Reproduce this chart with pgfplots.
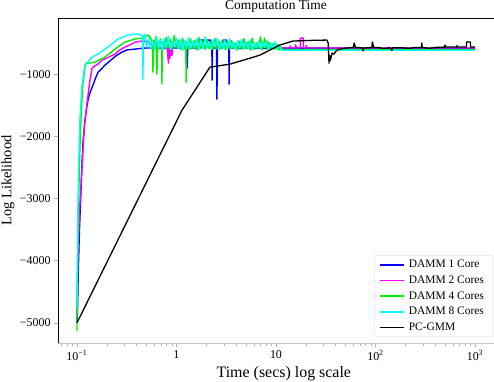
\documentclass[border=0pt]{standalone}
\usepackage{fontspec}
\setmainfont{Liberation Serif}
\usepackage{pgfplots}
\pgfplotsset{compat=1.18}

\definecolor{dblue}{RGB}{0,0,255}
\definecolor{dmag}{RGB}{255,0,255}
\definecolor{dgreen}{RGB}{0,240,0}
\definecolor{dcyan}{RGB}{0,255,255}

\begin{document}
\begin{tikzpicture}
\begin{axis}[
    scale only axis,
    width=436bp, height=325bp,
    xmode=log,
    xmin=0.0645, xmax=1552,
    ymin=-5323, ymax=-97,
    axis lines*=left,
    axis line style={-},
    x axis line style={gray!45, line width=1pt},
    y axis line style={black, line width=0.9pt},
    xtick={0.1,1,10,100,1000},
    xticklabels={10\textsuperscript{−1},1,10,10\textsuperscript{2},10\textsuperscript{3}},
    minor xtick={0.07,0.08,0.09,0.2,0.3,0.4,0.5,0.6,0.7,0.8,0.9,2,3,4,5,6,7,8,9,20,30,40,50,60,70,80,90,200,300,400,500,600,700,800,900},
    ytick={-5000,-4000,-3000,-2000,-1000},
    yticklabels={−5000,−4000,−3000,−2000,−1000},
    tick align=outside,
    major tick length=4bp, minor tick length=2.5bp,
    tick style={gray!60, line width=0.8pt},
    ticklabel style={font=\fontsize{12}{14}\selectfont},
    every axis title shift=0pt,
    title={Computation Time},
    title style={at={(axis description cs:0.5,1)}, anchor=base, yshift=8bp, font=\fontsize{13.5}{15}\selectfont},
    xlabel={Time (secs) log scale},
    xlabel style={at={(axis description cs:0.518,0)}, anchor=base, yshift=-34bp, font=\fontsize{16}{18}\selectfont},
    ylabel={Log Likelihood},
    ylabel style={at={(axis description cs:-0.115,0.5)}, anchor=center, font=\fontsize{14.5}{16}\selectfont},
    legend style={at={(0.998,0.018)}, anchor=south east, draw=gray!35, rounded corners=2pt,
        font=\fontsize{11.5}{13}\selectfont, row sep=2.6pt, inner xsep=5pt, inner ysep=3pt,
        nodes={inner xsep=4pt}},
    legend cell align=left,
    legend image code/.code={\draw[#1] (0bp,0bp) -- (24bp,0bp);},
    every axis plot/.append style={line width=1.4pt, line join=round},
]

\addlegendimage{color=dblue, line width=1.6pt}
\addlegendentry{DAMM 1 Core}
\addlegendimage{color=dmag, line width=1.6pt}
\addlegendentry{DAMM 2 Cores}
\addlegendimage{color=dgreen, line width=1.6pt}
\addlegendentry{DAMM 4 Cores}
\addlegendimage{color=dcyan, line width=1.6pt}
\addlegendentry{DAMM 8 Cores}
\addlegendimage{color=black, line width=1.6pt}
\addlegendentry{PC-GMM}

% DAMM 1 Core
\addplot[color=dblue, forget plot] coordinates {
(0.1,-5000) (0.1015,-4750) (0.103,-4200) (0.106,-3500) (0.109,-3000) (0.112,-2500)
(0.115,-2100) (0.12,-1750) (0.125,-1550) (0.129,-1420) (0.135,-1300) (0.145,-1177)
(0.155,-1050) (0.163,-968) (0.178,-910) (0.191,-855) (0.21,-800) (0.225,-758)
(0.25,-700) (0.283,-645) (0.32,-610) (0.383,-597) (0.45,-585) (0.483,-580)
(1.26,-580) (1.28,-900) (1.3,-580) (1.72,-580) (1.74,-452) (2.2,-452) (2.22,-580)
(2.27,-580) (2.28,-1097) (2.3,-580) (2.53,-580) (2.55,-1403) (2.58,-580)
(2.9,-580) (2.93,-452) (3.2,-452) (3.23,-580) (3.36,-580) (3.38,-1161) (3.41,-580)
(1000,-585)
};

% DAMM 2 Cores
\addplot[color=dmag, forget plot] coordinates {
(0.1,-4900) (0.102,-4000) (0.106,-3200) (0.112,-2548) (0.118,-1900) (0.126,-1468)
(0.135,-1100) (0.142,-903) (0.15,-870) (0.165,-830) (0.178,-774) (0.2,-740)
(0.241,-677) (0.27,-610) (0.303,-565) (0.35,-520) (0.383,-484) (0.45,-468)
(0.5,-470) (0.55,-520) (0.6,-470) (0.65,-560) (0.7,-480) (0.75,-540) (0.8,-500)
(0.83,-823) (0.84,-560) (0.86,-742) (0.87,-580) (0.9,-700) (0.92,-560) (1.0,-520)
(1.1,-580) (1.2,-500) (1.3,-580) (1.5,-520) (1.8,-580) (2.1,-530) (2.5,-580)
(3.0,-540) (11.7,-580) (13.8,-580) (13.9,-545) (14.2,-580) (15.6,-580) (15.7,-530)
(16.1,-580) (17.5,-580) (17.6,-420) (18.8,-420) (18.9,-580) (20.0,-580) (20.1,-540)
(20.6,-580) (1000,-580)
};

% DAMM 4 Cores
\addplot[color=dgreen, forget plot] coordinates {
(0.1,-5130) (0.1005,-4500) (0.102,-3800) (0.104,-3000) (0.107,-2200) (0.11,-1700)
(0.114,-1200) (0.12,-900) (0.123,-823) (0.13,-825) (0.152,-806) (0.191,-726)
(0.241,-597) (0.303,-484) (0.383,-435) (0.45,-420) (0.517,-370)
(0.55,-420) (0.575,-500) (0.58,-968) (0.59,-450) (0.60,-560) (0.62,-400) (0.636,-1000)
(0.65,-470) (0.66,-590) (0.69,-430) (0.71,-560) (0.715,-1161) (0.72,-480) (0.75,-600)
(0.79,-410) (0.83,-580) (0.87,-440) (0.91,-600) (0.95,-380) (1.0,-570) (1.05,-450)
(1.1,-600) (1.15,-420) (1.2,-590) (1.24,-470) (1.25,-1129) (1.26,-500) (1.32,-600)
(1.38,-430) (1.45,-590) (1.52,-460) (1.6,-610) (1.68,-410) (1.76,-580) (1.85,-470)
(1.94,-600) (2.03,-440) (2.13,-590) (2.23,-480) (2.34,-610) (2.45,-430) (2.57,-600)
(2.7,-470) (2.83,-590) (2.97,-450) (3.1,-610) (3.26,-490) (3.42,-600) (3.58,-460)
(3.76,-590) (3.94,-500) (4.13,-610) (4.33,-470) (4.54,-600) (4.76,-430) (5.0,-590)
(5.25,-480) (5.5,-610) (5.77,-420) (6.05,-600) (6.35,-500) (6.66,-590) (6.98,-400)
(7.32,-610) (7.68,-420) (8.05,-600) (8.45,-480) (8.86,-610) (9.3,-510) (9.75,-600)
(10.2,-520) (10.7,-610) (11.2,-560) (11.7,-605) (1000,-605)
};

% DAMM 8 Cores
\addplot[color=dcyan, forget plot] coordinates {
(0.1,-4758) (0.1023,-3145) (0.104,-2500) (0.107,-1742) (0.112,-1200) (0.12,-855)
(0.142,-726) (0.163,-677) (0.191,-597) (0.225,-516) (0.258,-435) (0.326,-371)
(0.41,-355) (0.455,-380) (0.46,-1081) (0.465,-400) (0.48,-360)
(0.50,-560) (0.525,-420) (0.55,-590) (0.575,-470) (0.60,-600) (0.63,-400) (0.66,-580)
(0.69,-450) (0.72,-610) (0.75,-430) (0.79,-570) (0.83,-390) (0.87,-600) (0.91,-480)
(0.95,-560) (1.0,-420) (1.05,-590) (1.1,-440) (1.15,-620) (1.2,-460) (1.26,-580)
(1.32,-410) (1.38,-600) (1.45,-470) (1.52,-570) (1.6,-430) (1.68,-610) (1.76,-450)
(1.85,-590) (1.94,-400) (2.03,-580) (2.13,-480) (2.23,-600) (2.34,-440) (2.45,-560)
(2.57,-420) (2.7,-610) (2.83,-470) (2.97,-590) (3.1,-450) (3.26,-600) (3.42,-430)
(3.58,-580) (3.76,-490) (3.94,-610) (4.13,-460) (4.33,-570) (4.54,-440) (4.76,-600)
(5.0,-480) (5.25,-590) (5.5,-450) (5.77,-610) (6.05,-500) (6.35,-580) (6.66,-470)
(6.98,-600) (7.32,-490) (7.68,-570) (8.05,-460) (8.45,-610) (8.86,-500) (9.3,-590)
(9.75,-480) (10.2,-600) (10.7,-520) (11.2,-610) (11.7,-615) (1000,-615)
};

% PC-GMM
\addplot[color=black, line width=1.3pt, forget plot] coordinates {
(0.1,-5000) (1.135,-1581) (2.17,-887) (3.45,-839) (5.1,-758) (6.9,-694)
(10.9,-532) (14.8,-468) (20,-460) (25,-455) (32.5,-452) (33.5,-500) (34.1,-823)
(34.6,-700) (35.2,-780) (36.6,-661) (38,-680) (41,-613) (45,-595) (50,-580)
(55,-575) (60,-570) (61,-500) (63,-570) (70,-575) (74,-580) (75,-629) (76,-580)
(85,-575) (92,-570) (93,-484) (96,-570) (110,-575) (120,-590) (140,-575) (146,-620)
(148,-575) (180,-575) (220,-585) (250,-570) (290,-570) (292,-500) (295,-570)
(350,-585) (400,-570) (495,-565) (500,-530) (505,-565) (600,-565) (655,-565)
(660,-540) (665,-565) (800,-565) (820,-565) (822,-484) (900,-484) (902,-565)
(1000,-565)
};

\draw[black, line width=0.9pt] (rel axis cs:0,1) -- (rel axis cs:1,1);
\end{axis}
\pgfresetboundingbox
\path[use as bounding box] (-58bp,-39bp) rectangle (436bp,343bp);
\end{tikzpicture}
\end{document}
